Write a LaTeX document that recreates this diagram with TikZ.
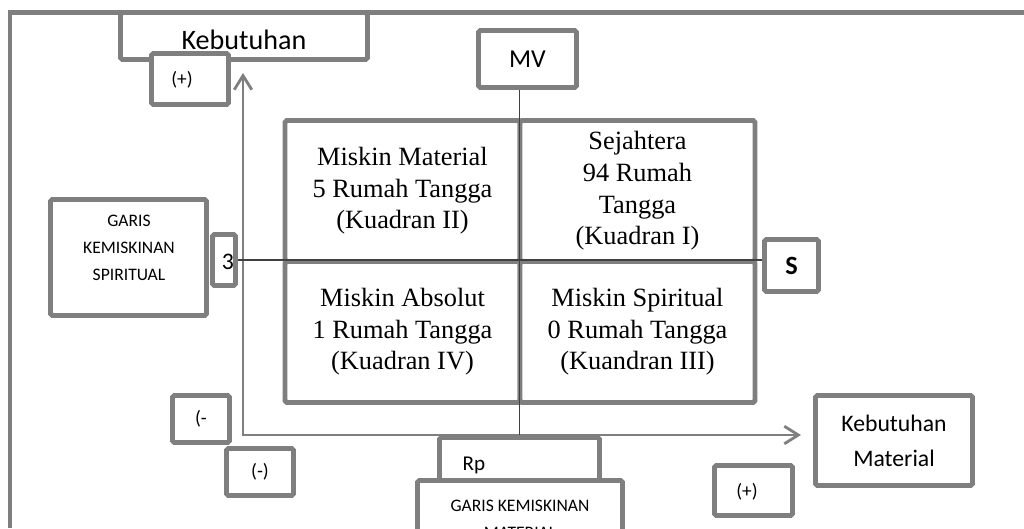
\documentclass[tikz,border=0pt]{standalone}
\usepackage{fontspec}
\setmainfont{Liberation Serif}
\newfontfamily\calibri{Carlito}
\usetikzlibrary{arrows.meta}
\definecolor{boxgray}{HTML}{7F7F7F}
\definecolor{linegray}{HTML}{404040}

\begin{document}
\begin{tikzpicture}[x=0.02cm, y=-0.02cm,
    box/.style={draw=boxgray, line width=2.8pt, fill=white, rounded corners=1pt, inner sep=0pt},
    cell/.style={box, minimum width=4.7cm, minimum height=2.82cm, align=center, font=\fontsize{15}{18}\selectfont},
    big/.style={font=\calibri\fontsize{13.5}{20}\selectfont, align=center},
    lbl/.style={font=\calibri\fontsize{11}{13}\selectfont},
    small/.style={font=\calibri\fontsize{10}{15.3}\selectfont, align=center},
    axis/.style={draw=boxgray, line width=1.6pt, >={Straight Barb[length=8pt,width=10pt]}, <->},
    thinline/.style={draw=linegray, line width=0.7pt}]
    \useasboundingbox (0,0) rectangle (1024,528);
    \clip (0,0) rectangle (1024,528);
    \draw[draw=boxgray, line width=2.8pt] (10,528) -- (10,12.5) -- (1024,12.5);
    \node[box, minimum width=4.94cm, minimum height=0.94cm] (kebtop) at (244,36) {};
    \node[big, font=\calibri\fontsize{16}{20}\selectfont, anchor=base] (kebtoptext) at (244,49) {Kebutuhan};
    \node[box, minimum width=1.54cm, minimum height=1.02cm] (plustop) at (190,79) {};
    \node[lbl] (plustoptext) at (182,80) {(+)};
    \coordinate (origin) at (243,435);
    \coordinate (ytip) at (243,73);
    \coordinate (xtip) at (801,435);
    \draw[axis] (ytip) -- (origin) -- (xtip);
    \node[cell] (q2) at (402.5,191) {Miskin Material\\5 Rumah Tangga\\(Kuadran II)};
    \node[cell] (q1) at (637.5,191) {Sejahtera\\94 Rumah\\Tangga\\(Kuadran I)};
    \node[cell] (q4) at (402.5,332) {Miskin Absolut\\1 Rumah Tangga\\(Kuadran IV)};
    \node[cell] (q3) at (637.5,332) {Miskin Spiritual\\0 Rumah Tangga\\(Kuandran III)};
    \node[box, minimum width=0.46cm, minimum height=1.02cm] (three) at (224,260) {};
    \node[big] (threetext) at (228,262) {3};
    \node[box, minimum width=3.12cm, minimum height=2.32cm] (gks) at (128.5,257.5) {};
    \node[small] (gkstext) at (129,248) {GARIS\\KEMISKINAN\\SPIRITUAL};
    \node[box, big, font=\calibri\fontsize{14.7}{18}\selectfont, minimum width=1.96cm, minimum height=1.14cm] (mv) at (527.5,59) {MV};
    \node[box, minimum width=1.08cm, minimum height=1.04cm, font=\calibri\bfseries\fontsize{15}{18}\selectfont] (s) at (791.5,265.5) {S};
    \node[box, big, minimum width=3.14cm, minimum height=1.8cm] (kebmat) at (894,440.5) {Kebutuhan\\Material};
    \node[box, minimum width=1.56cm, minimum height=1.0cm] (plusbot) at (753.5,490.5) {};
    \node[lbl] (plusbottext) at (747,492) {(+)};
    \node[box, lbl, minimum width=1.14cm, minimum height=0.94cm] (mina) at (201,419) {(-};
    \node[box, lbl, minimum width=1.34cm, minimum height=0.94cm] (minb) at (260,472) {(-)};
    \node[box, minimum width=3.2cm, minimum height=1.1cm] (rp) at (519.5,465) {};
    \node[lbl, font=\calibri\fontsize{12}{14}\selectfont] (rptext) at (474,465) {Rp};
    \node[box, small, minimum width=4.1cm, minimum height=1.54cm] (gkm) at (520,519) {GARIS KEMISKINAN\\MATERIAL};
    \draw[thinline] (rp.north |- mv.south) -- (rp.north);
    \draw[thinline] (three.east) -- (three.east -| s.west);
\end{tikzpicture}
\end{document}
